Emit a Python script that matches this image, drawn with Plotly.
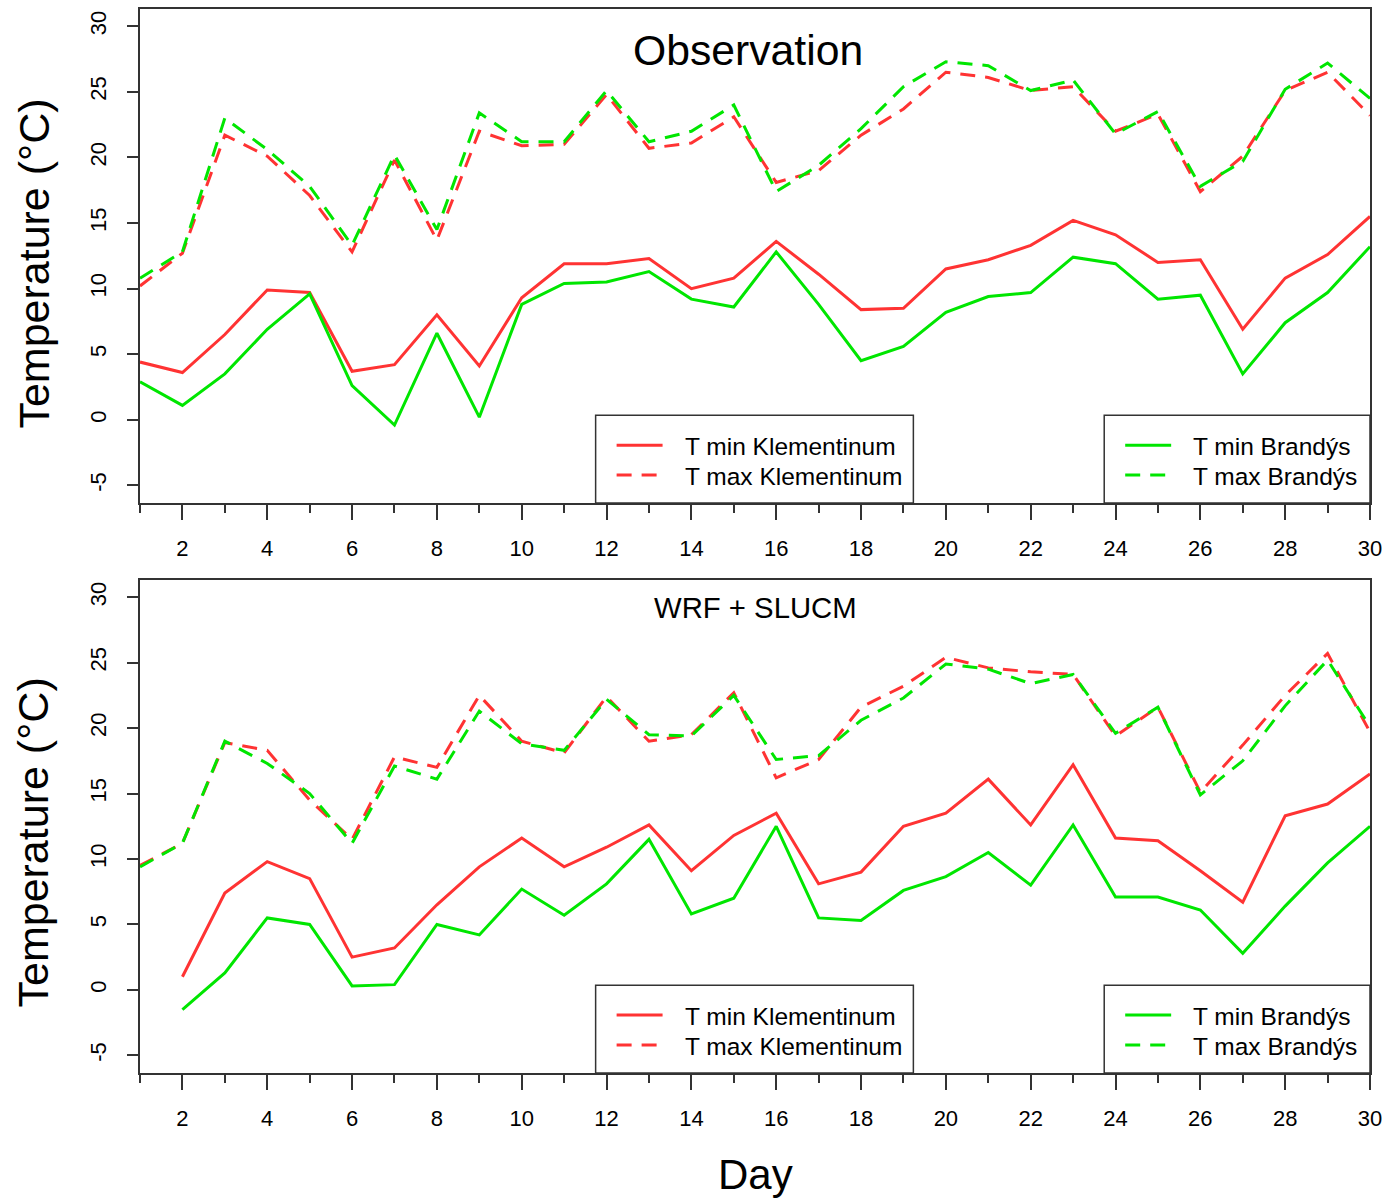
import plotly.graph_objects as go
from plotly.subplots import make_subplots

days = list(range(1, 31))

obs_tmin_klem = [4.4, 3.6, 6.5, 9.9, 9.7, 3.7, 4.2, 8.0, 4.1, 9.3, 11.9, 11.9, 12.3, 10.0, 10.8,
                 13.6, 11.1, 8.4, 8.5, 11.5, 12.2, 13.3, 15.2, 14.1, 12.0, 12.2, 6.9, 10.8, 12.6, 15.5]
obs_tmin_bran = [2.9, 1.1, 3.5, 6.9, 9.6, 2.6, -0.4, 6.6, 0.2, 8.8, 10.4, 10.5, 11.3, 9.2, 8.6,
                 12.8, 8.8, 4.5, 5.6, 8.2, 9.4, 9.7, 12.4, 11.9, 9.2, 9.5, 3.5, 7.4, 9.7, 13.2]
obs_tmax_klem = [10.2, 12.7, 21.7, 20.1, 17.1, 12.8, 19.8, 13.7, 22.0, 20.9, 21.0, 24.8, 20.7, 21.1, 23.1,
                 18.1, 19.0, 21.7, 23.7, 26.5, 26.1, 25.1, 25.4, 22.0, 23.3, 17.4, 20.1, 25.1, 26.5, 23.2]
obs_tmax_bran = [10.8, 12.8, 23.0, 20.6, 17.8, 13.3, 20.2, 14.5, 23.4, 21.2, 21.2, 25.1, 21.2, 22.0, 24.0,
                 17.4, 19.4, 22.2, 25.4, 27.3, 27.0, 25.1, 25.9, 21.8, 23.5, 17.8, 19.7, 25.2, 27.2, 24.5]

wrf_tmin_klem = [None, 1.0, 7.4, 9.8, 8.5, 2.5, 3.2, 6.5, 9.4, 11.6, 9.4, 10.9, 12.6, 9.1, 11.8,
                 13.5, 8.1, 9.0, 12.5, 13.5, 16.1, 12.6, 17.2, 11.6, 11.4, 9.1, 6.7, 13.3, 14.2, 16.5]
wrf_tmin_bran = [None, -1.5, 1.3, 5.5, 5.0, 0.3, 0.4, 5.0, 4.2, 7.7, 5.7, 8.1, 11.5, 5.8, 7.0,
                 12.5, 5.5, 5.3, 7.6, 8.65, 10.5, 8.0, 12.6, 7.1, 7.1, 6.1, 2.8, 6.4, 9.7, 12.5]
wrf_tmax_klem = [9.5, 11.2, 18.9, 18.3, 14.5, 11.5, 17.8, 17.0, 22.5, 19.0, 18.1, 22.4, 19.0, 19.5, 22.7,
                 16.2, 17.6, 21.6, 23.2, 25.4, 24.6, 24.3, 24.1, 19.4, 21.6, 15.1, 18.7, 22.5, 25.7, 19.7]
wrf_tmax_bran = [9.4, 11.2, 19.0, 17.3, 15.0, 11.2, 17.1, 16.1, 21.3, 18.8, 18.3, 22.2, 19.5, 19.4, 22.5,
                 17.6, 17.9, 20.6, 22.3, 24.9, 24.5, 23.4, 24.1, 19.6, 21.6, 14.9, 17.5, 21.7, 25.2, 20.1]

panel_titles = ["Observation", "WRF + SLUCM"]
series_names = ["T min Klementinum", "T max Klementinum", "T min Brandýs", "T max Brandýs"]
y_ticks = [-5, 0, 5, 10, 15, 20, 25, 30]
x_major = list(range(2, 31, 2))
x_minor = list(range(1, 30, 2))

RED = "#ff3333"
GREEN = "#00e600"
AXC = "#333333"
FONT = "Liberation Sans, Arial, sans-serif"
DASH = "15px,10px"
LW = 3

W, H = 1389, 1202
ML, MR, MT, MB = 140, 18, 7, 129
PW = W - ML - MR
PH = H - MT - MB


def fx(px):
    return (px - ML) / PW


def fy(py):
    return (H - MB - py) / PH


fig = make_subplots(rows=2, cols=1, shared_xaxes=False, vertical_spacing=0.0)

panels = [
    (obs_tmin_klem, obs_tmax_klem, obs_tmin_bran, obs_tmax_bran),
    (wrf_tmin_klem, wrf_tmax_klem, wrf_tmin_bran, wrf_tmax_bran),
]
styles = [(RED, "solid"), (RED, DASH), (GREEN, "solid"), (GREEN, DASH)]

for r, data in enumerate(panels, start=1):
    for name, vals, (col, dash) in zip(series_names, data, styles):
        fig.add_trace(go.Scatter(x=days, y=vals, mode="lines", name=name,
                                 line=dict(color=col, width=LW, dash=dash),
                                 showlegend=False, connectgaps=False), row=r, col=1)

top_dom = [fy(502), fy(7)]
bot_dom = [fy(1073), fy(579)]

for r, dom in [(1, top_dom), (2, bot_dom)]:
    xa = "xaxis" if r == 1 else "xaxis2"
    ya = "yaxis" if r == 1 else "yaxis2"
    fig.layout[xa].update(
        domain=[0, 1], range=[1, 30], tickmode="array", tickvals=x_major,
        ticktext=[str(v) for v in x_major], ticks="outside", ticklen=15, tickwidth=1.5,
        tickcolor=AXC, showline=True, linecolor=AXC, linewidth=1.5, mirror=True,
        showgrid=False, zeroline=False, ticklabelstandoff=10,
        tickfont=dict(family=FONT, size=22, color="black"),
        minor=dict(tickmode="array", tickvals=x_minor, ticks="outside", ticklen=8,
                   tickwidth=1.5, tickcolor=AXC, showgrid=False),
    )
    fig.layout[ya].update(
        domain=dom, range=[-6.35, 31.32], tickmode="array", tickvals=y_ticks,
        ticktext=[str(v) for v in y_ticks], ticks="outside", ticklen=11, tickwidth=1.5,
        tickcolor=AXC, showline=True, linecolor=AXC, linewidth=1.5, mirror=True,
        showgrid=False, zeroline=False, tickangle=-90, ticklabelstandoff=12,
        tickfont=dict(family=FONT, size=22, color="black"),
    )

annotations = []
shapes = []

# panel titles
annotations.append(dict(text=panel_titles[0], x=fx(748), y=fy(48), xref="paper", yref="paper",
                        showarrow=False, font=dict(family=FONT, size=42.7, color="black"),
                        xanchor="center", yanchor="middle"))
annotations.append(dict(text=panel_titles[1], x=fx(756), y=fy(607), xref="paper", yref="paper",
                        showarrow=False, font=dict(family=FONT, size=29.3, color="black"),
                        xanchor="center", yanchor="middle"))

# y-axis titles
for cy in (262, 842):
    annotations.append(dict(text="Temperature (°C)", x=fx(33), y=fy(cy), xref="paper", yref="paper",
                            showarrow=False, textangle=-90, font=dict(family=FONT, size=43, color="black"),
                            xanchor="center", yanchor="middle"))
# x-axis title
annotations.append(dict(text="Day", x=fx(756), y=fy(1175), xref="paper", yref="paper",
                        showarrow=False, font=dict(family=FONT, size=42, color="black"),
                        xanchor="center", yanchor="middle"))

# legends (box, sample lines, labels)
for top in (414, 985):
    bottom = top + 88
    for (bx0, bx1, idx) in [(596, 914, 0), (1105, 1371, 2)]:
        shapes.append(dict(type="rect", xref="paper", yref="paper", x0=fx(bx0), x1=fx(bx1),
                           y0=fy(bottom), y1=fy(top), line=dict(color=AXC, width=1.5),
                           fillcolor="white", layer="above"))
        for k in range(2):
            yy = top + 30 + 30 * k
            col, dash = styles[idx + k]
            shapes.append(dict(type="line", xref="paper", yref="paper", x0=fx(bx0 + 21), x1=fx(bx0 + 67),
                               y0=fy(yy), y1=fy(yy), line=dict(color=col, width=LW, dash=dash),
                               layer="above"))
            annotations.append(dict(text=series_names[idx + k], x=fx(bx0 + 87), y=fy(yy + 1),
                                    xref="paper", yref="paper", showarrow=False,
                                    font=dict(family=FONT, size=24.5, color="black"),
                                    xanchor="left", yanchor="middle"))

fig.update_layout(
    width=W, height=H, margin=dict(l=ML, r=MR, t=MT, b=MB),
    paper_bgcolor="white", plot_bgcolor="white",
    annotations=annotations, shapes=shapes, showlegend=False,
    font=dict(family=FONT, color="black"),
)

fig.write_html("out.html")
